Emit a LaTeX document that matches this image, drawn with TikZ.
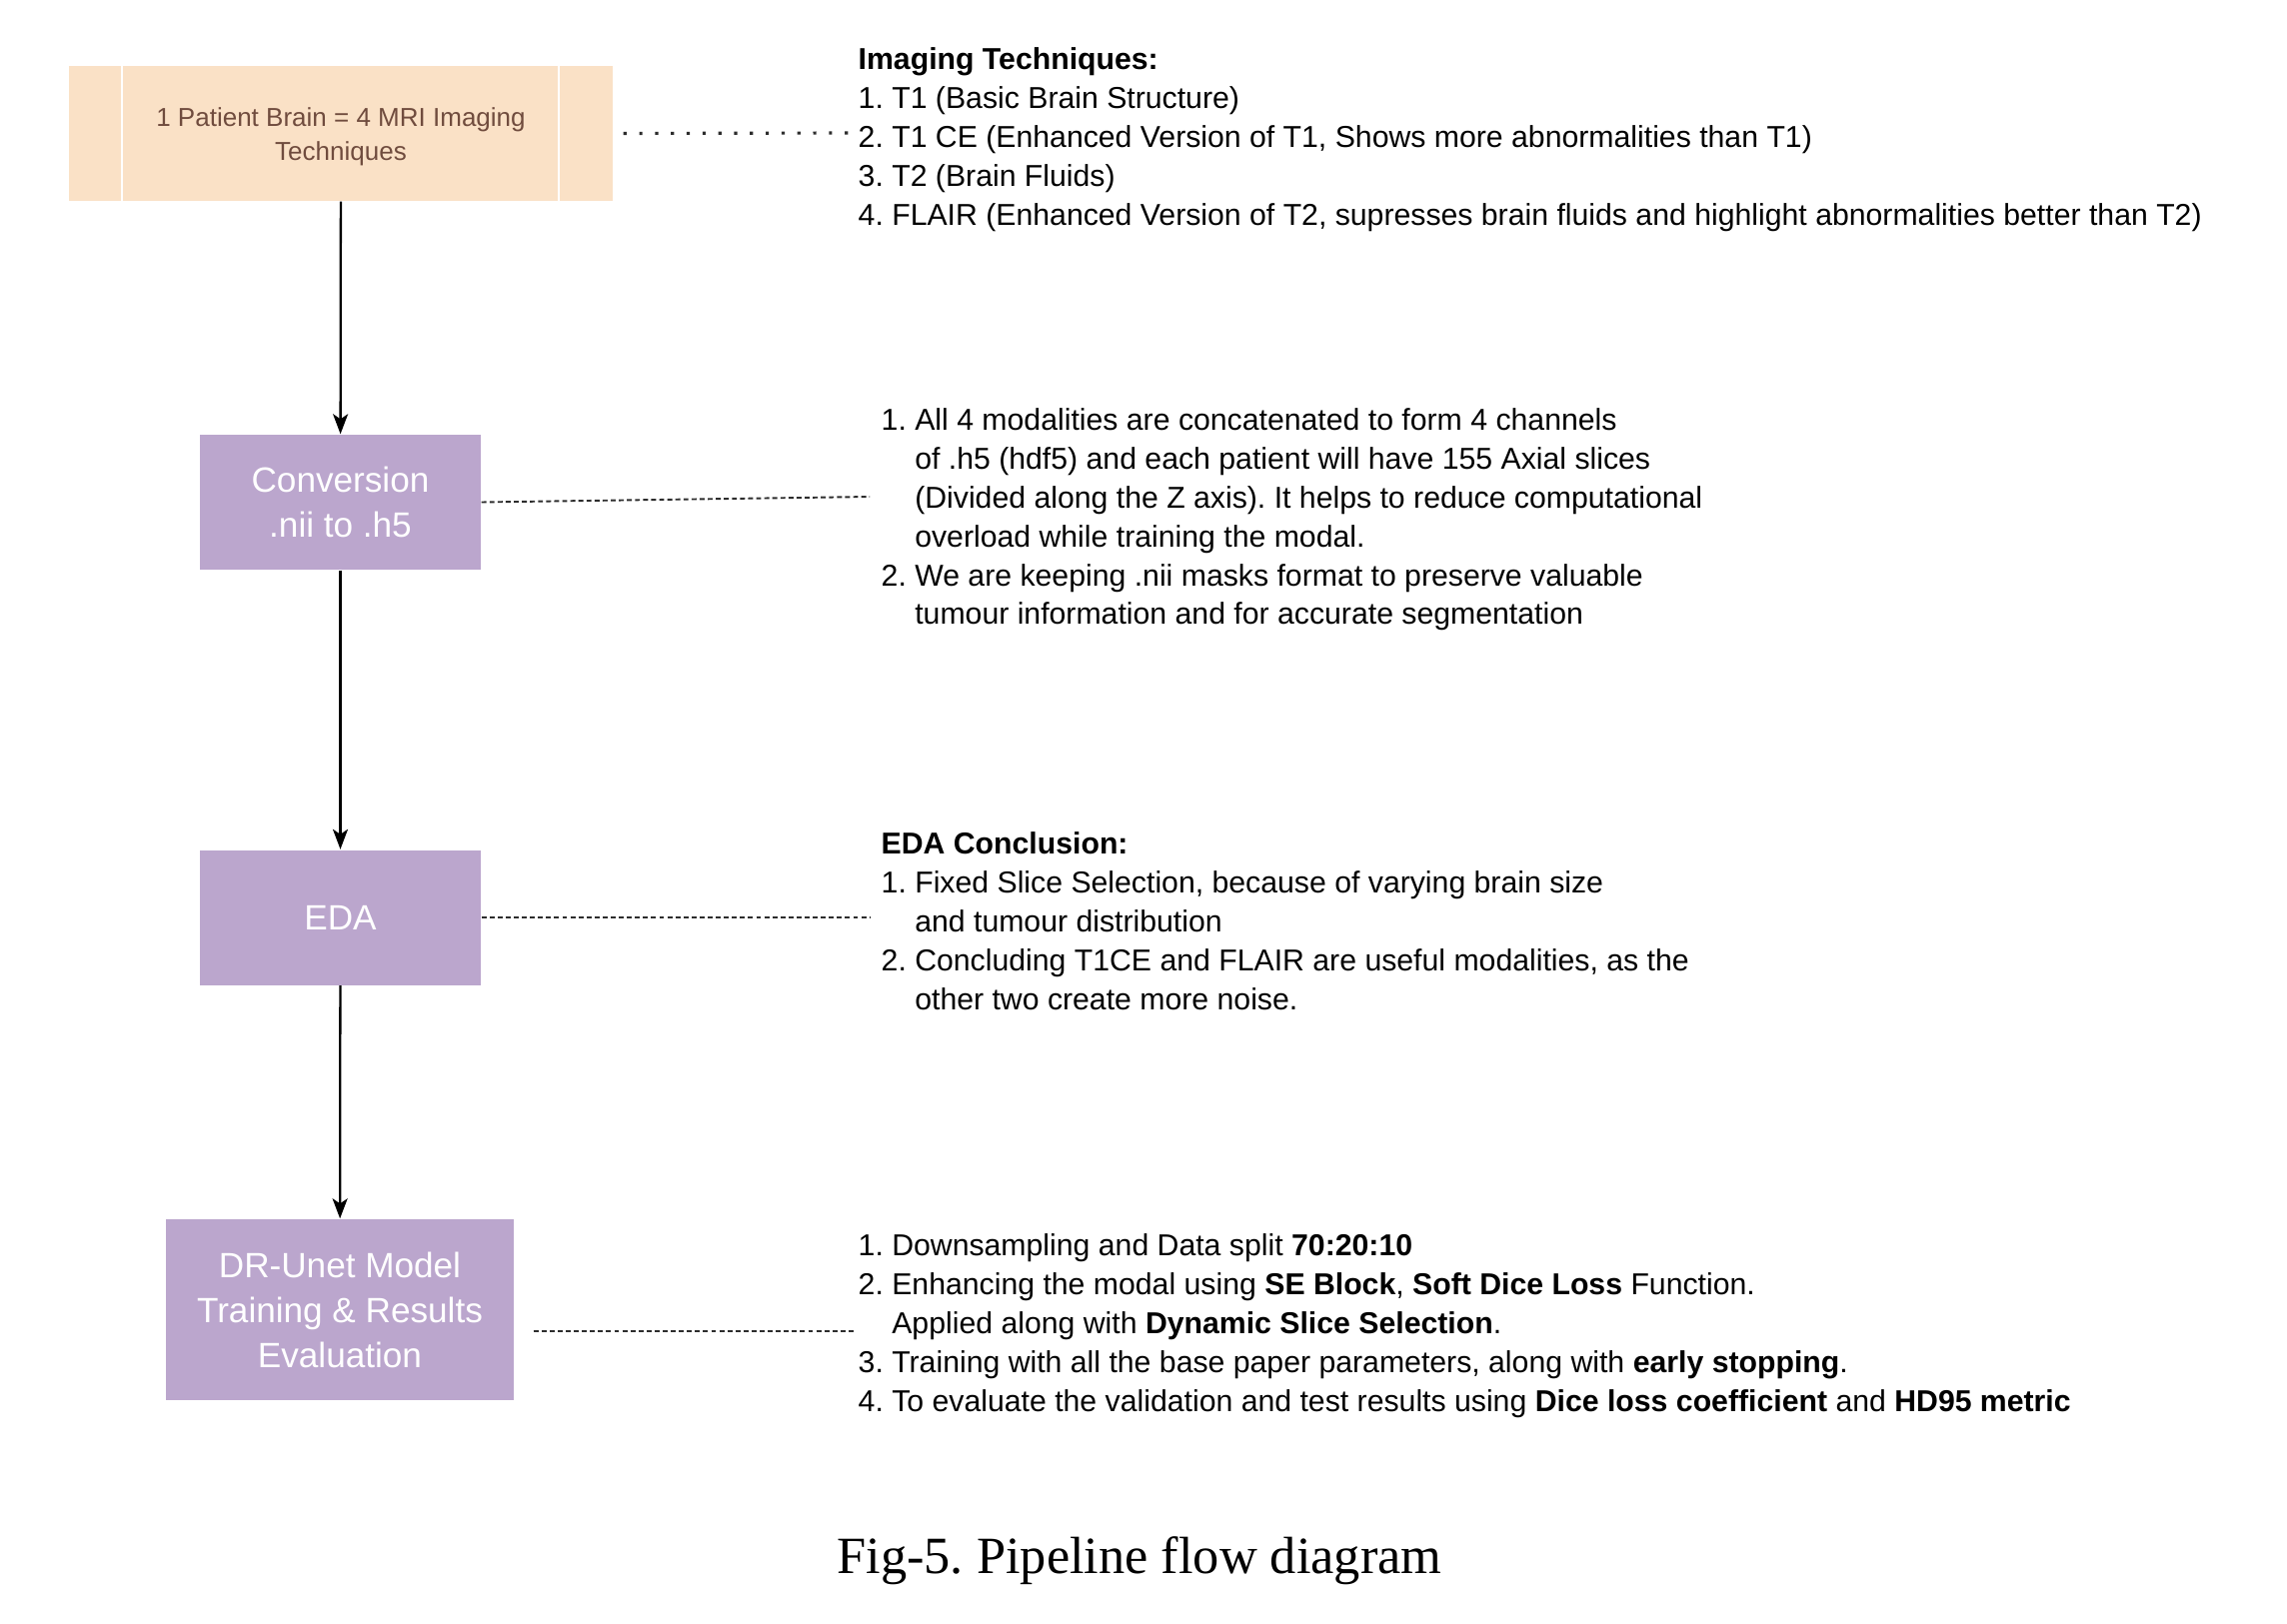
\documentclass[tikz,border=0pt]{standalone}
\usepackage{fontspec}
\setmainfont{Liberation Serif}
\setsansfont{Liberation Sans}
\usetikzlibrary{arrows.meta}
\definecolor{peach}{RGB}{250,225,198}
\definecolor{lilac}{RGB}{187,166,205}
\definecolor{brownink}{RGB}{112,76,62}
\definecolor{linkgray}{RGB}{45,45,45}
\newcommand{\ind}{\hphantom{1.\ }}
\frenchspacing

\begin{document}
\begin{tikzpicture}[x=0.1mm, y=-0.1mm, >={Stealth[length=2mm,width=1.5mm,inset=0.5mm]},
  stage/.style={fill=lilac, draw=none, text=white, align=center,
    font=\sffamily\fontsize{10}{12.8}\selectfont},
  notes/.style={anchor=north west, inner sep=0pt, align=left,
    font=\sffamily\fontsize{8.6}{11.06}\selectfont},
  flow/.style={->, line width=0.65pt},
  dashlink/.style={linkgray, line width=0.55pt, dash pattern=on 1.4pt off 0.9pt},
  dotlink/.style={linkgray, line width=0.9pt, dash pattern=on 0.9pt off 3.6pt}]
  \useasboundingbox (0,0) rectangle (2288,1624);
  % pipeline stages
  \node[fill=peach, minimum width=54.4mm, minimum height=13.5mm] (brain) at (341,133.5) {};
  \draw[white, line width=0.6pt] (122,66) -- (122,201);
  \draw[white, line width=0.6pt] (559,66) -- (559,201);
  \node[text=brownink, align=center, font=\sffamily\fontsize{7.4}{9.6}\selectfont]
    (braintext) at (341,137) {1 Patient Brain = 4 MRI Imaging\\Techniques};
  \node[stage, minimum width=28.1mm, minimum height=13.5mm] (conv) at (340.5,502.5)
    {Conversion\\.nii to .h5};
  \node[stage, minimum width=28.1mm, minimum height=13.5mm] (eda) at (340.5,918) {EDA};
  \node[stage, minimum width=34.8mm, minimum height=18.1mm] (drunet) at (340,1310.5)
    {DR-Unet Model\\Training \& Results\\Evaluation};
  \draw[flow] (brain) -- (conv);
  \draw[flow] (conv) -- (eda);
  \draw[flow] (eda) -- (drunet);
  % notes on the right
  \node[notes] (imgnote) at (858,47) {\textbf{Imaging Techniques:}\\
    1. T1 (Basic Brain Structure)\\
    2. T1 CE (Enhanced Version of T1, Shows more abnormalities than T1)\\
    3. T2 (Brain Fluids)\\
    4. FLAIR (Enhanced Version of T2, supresses brain fluids and highlight abnormalities better than T2)};
  \node[notes] (convnote) at (881,408) {1. All 4 modalities are concatenated to form 4 channels\\
    \ind of .h5 (hdf5) and each patient will have 155 Axial slices\\
    \ind (Divided along the Z axis). It helps to reduce computational\\
    \ind overload while training the modal.\\
    2. We are keeping .nii masks format to preserve valuable\\
    \ind tumour information and for accurate segmentation};
  \node[notes] (edanote) at (881,832) {\textbf{EDA Conclusion:}\\
    1. Fixed Slice Selection, because of varying brain size\\
    \ind and tumour distribution\\
    2. Concluding T1CE and FLAIR are useful modalities, as the\\
    \ind other two create more noise.};
  \node[notes] (drnote) at (858,1234) {1. Downsampling and Data split \textbf{70:20:10}\\
    2. Enhancing the modal using \textbf{SE Block}, \textbf{Soft Dice Loss} Function.\\
    \ind Applied along with \textbf{Dynamic Slice Selection}.\\
    3. Training with all the base paper parameters, along with \textbf{early stopping}.\\
    4. To evaluate the validation and test results using \textbf{Dice loss coefficient} and \textbf{HD95 metric}};
  % links to notes
  \coordinate (imgend) at (856,133);
  \coordinate (convend) at (870,497);
  \coordinate (edaend) at (871,918);
  \coordinate (drend) at (855,1332);
  \draw[dotlink, shorten <=1mm] (brain.east) -- (imgend);
  \draw[dashlink] (conv.east) -- (convend);
  \draw[dashlink] (eda.east) -- (edaend);
  \draw[dashlink, shorten <=1.9mm] (drunet.east |- drend) -- (drend);
  % caption
  \node[font=\rmfamily\fontsize{14.9}{18}\selectfont] (caption) at (1140,1562)
    {Fig-5. Pipeline flow diagram};
\end{tikzpicture}
\end{document}
